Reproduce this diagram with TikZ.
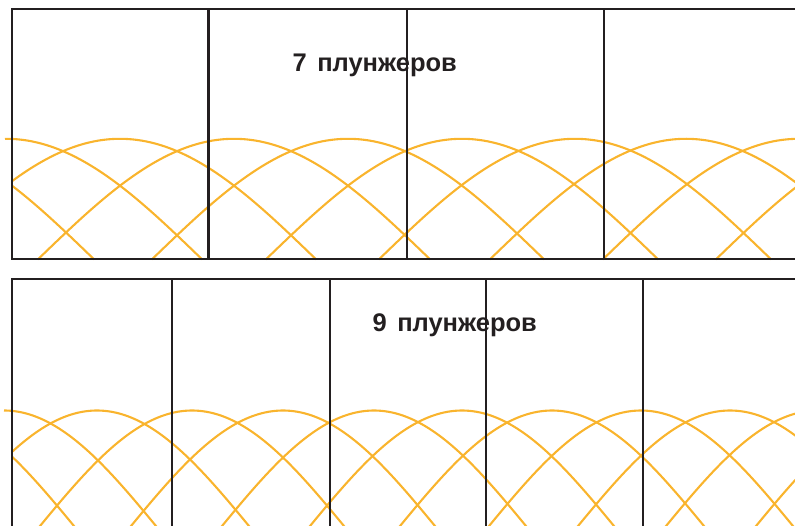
\documentclass[tikz,border=0pt]{standalone}
\usepackage{fontspec}
\setmainfont{Liberation Sans}
\definecolor{ink}{RGB}{35,31,32}
\definecolor{curve}{RGB}{249,180,45}
\tikzset{
  frame/.style={draw=ink, line width=2.4pt},
  hump/.style={draw=curve, line width=2.1pt},
  lbl/.style={font=\fontsize{25.5}{30}\selectfont\bfseries, text=ink, inner sep=0pt, anchor=base west}
}
% peak x, base y, amplitude, half width, first x
\newcommand\humpline[5]{%
  \pgfmathsetmacro\ha{max((#1)-(#4),#5)}%
  \pgfmathsetmacro\hb{min((#1)+(#4),800)}%
  \draw[hump] plot[domain=\ha:\hb, samples=80, smooth, variable=\t] (\t, {#2-#3*cos((\t-(#1))/(#4)*90)});%
}
\begin{document}
\begin{tikzpicture}[x=1pt,y=-1pt]
\useasboundingbox (0,0) rectangle (795,526);
\clip (0,0) rectangle (795,526);
% top panel: 7 plungers
\foreach \p in {-102,120,234,348,462,575,686,799,912} {\humpline{\p}{259.3}{120.5}{196}{11.7}}
\humpline{6}{259.3}{120.5}{196}{5}
% bottom panel: 9 plungers
\foreach \p in {-78,97,192,283,374,462,552,641,730,818,908} {\humpline{\p}{531.5}{121}{156.5}{11.7}}
\humpline{4}{531.5}{121}{156.5}{4}
% labels
\node[lbl] (t7) at (292.3,71.7) {7\hspace{3.5pt} плунжеров};
\node[lbl] (t9) at (372.3,331.7) {9\hspace{3.5pt} плунжеров};
% frames
\draw[frame] (800,9.3) -- (11.7,9.3) -- (11.7,259.3) -- (800,259.3);
\foreach \v in {208.3,406.7,603.8} {\draw[frame] (\v,9.3) -- (\v,259.3);}
\draw[frame] (800,279.3) -- (11.7,279.3) -- (11.7,540);
\foreach \v in {171.8,330,486,642.8} {\draw[frame] (\v,279.3) -- (\v,540);}
\end{tikzpicture}
\end{document}
